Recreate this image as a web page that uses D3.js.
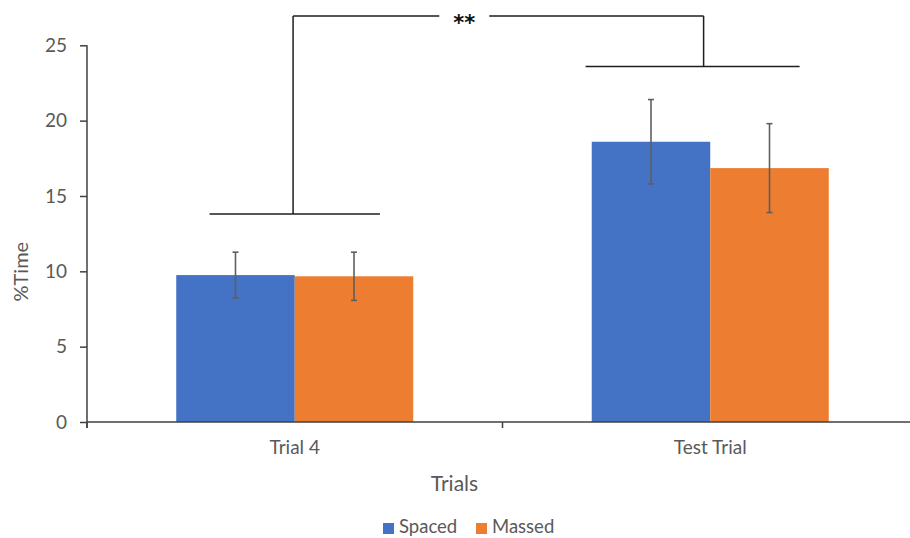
<!DOCTYPE html>
<html>
<head>
<meta charset="utf-8">
<script src="https://cdn.jsdelivr.net/npm/d3@7"></script>
<style>
  html, body { margin: 0; padding: 0; background: #ffffff; }
  svg { display: block; font-family: Lato, "Open Sans", sans-serif; }
</style>
</head>
<body>
<svg id="chart" width="910" height="538"></svg>
<script>
// Percent of time by trial, spaced vs massed groups (mean ± error)
const categories = ["Trial 4", "Test Trial"];
const seriesNames = ["Spaced", "Massed"];
const spacedValues = [9.75, 18.6];
const massedValues = [9.67, 16.85];
const spacedErrors = [1.52, 2.8];
const massedErrors = [1.6, 2.95];
const yTicks = [0, 5, 10, 15, 20, 25];
const seriesColors = ["#4472C4", "#ED7D31"];

// Significance brackets: level in y units, span as fractions of category band
const bracketLevels = [13.8, 23.6];
const bracketSpans = [[-0.205, 0.205], [-0.30, 0.215]];
const bracketStems = [-0.004, -0.016];
const topLevel = 26.95;
const sigLabel = "**";

const svg = d3.select("#chart");
const plotLeft = 87, plotRight = 918, plotTop = 45.3, plotBottom = 422;

const y = d3.scaleLinear().domain([0, 25]).range([plotBottom, plotTop]);
const x0 = d3.scaleBand().domain(categories).range([plotLeft, plotRight]).paddingInner(0).paddingOuter(0);
const x1 = d3.scaleBand().domain(seriesNames).range([0, x0.bandwidth()]).paddingInner(0).paddingOuter(0.753);
const color = d3.scaleOrdinal().domain(seriesNames).range(seriesColors);

const rows = categories.map((c, i) => ({
  category: c,
  values: [
    { name: "Spaced", value: spacedValues[i], err: spacedErrors[i] },
    { name: "Massed", value: massedValues[i], err: massedErrors[i] }
  ]
}));

// Bars
const groups = svg.append("g").selectAll("g")
  .data(rows).join("g")
  .attr("transform", d => `translate(${x0(d.category)},0)`);

groups.selectAll("rect")
  .data(d => d.values).join("rect")
  .attr("x", d => x1(d.name))
  .attr("width", x1.bandwidth())
  .attr("y", d => y(d.value))
  .attr("height", d => y(0) - y(d.value))
  .attr("fill", d => color(d.name));

// Error bars
const capHalf = 3;
groups.selectAll("g.err")
  .data(d => d.values).join("g")
  .attr("class", "err")
  .each(function(d) {
    const g = d3.select(this);
    const cx = x1(d.name) + x1.bandwidth() / 2;
    const hi = y(d.value + d.err), lo = y(d.value - d.err);
    g.append("line").attr("x1", cx).attr("x2", cx).attr("y1", hi).attr("y2", lo);
    g.append("line").attr("x1", cx - capHalf).attr("x2", cx + capHalf).attr("y1", hi).attr("y2", hi);
    g.append("line").attr("x1", cx - capHalf).attr("x2", cx + capHalf).attr("y1", lo).attr("y2", lo);
  })
  .selectAll("line")
  .attr("stroke", "#5f5f5f").attr("stroke-width", 1.6);

// Y axis
const yAxis = svg.append("g")
  .attr("transform", `translate(${plotLeft},0)`)
  .call(d3.axisLeft(y).tickValues(yTicks).tickSize(7).tickPadding(13));
yAxis.select(".domain").remove();
yAxis.selectAll(".tick line").attr("stroke", "#404040").attr("stroke-width", 1.5);
yAxis.selectAll(".tick text")
  .attr("fill", "#595959").style("font-size", "19px").style("font-family", "Lato, sans-serif");
svg.append("line")
  .attr("x1", plotLeft).attr("x2", plotLeft)
  .attr("y1", y(25)).attr("y2", plotBottom + 6)
  .attr("stroke", "#404040").attr("stroke-width", 1.5);

// X axis
const xAxis = svg.append("g")
  .attr("transform", `translate(0,${plotBottom})`)
  .call(d3.axisBottom(x0).tickSize(0).tickPadding(18.5));
xAxis.select(".domain").remove();
xAxis.selectAll(".tick text")
  .attr("fill", "#595959").style("font-size", "19px").style("font-family", "Lato, sans-serif");
svg.append("line")
  .attr("x1", plotLeft).attr("x2", plotRight)
  .attr("y1", plotBottom).attr("y2", plotBottom)
  .attr("stroke", "#404040").attr("stroke-width", 1.5);
// Category boundary ticks
const boundaries = categories.map(c => x0(c)).concat([plotRight]);
svg.append("g").selectAll("line")
  .data(boundaries).join("line")
  .attr("x1", d => d).attr("x2", d => d)
  .attr("y1", plotBottom).attr("y2", plotBottom + 6)
  .attr("stroke", "#404040").attr("stroke-width", 1.5);

// Axis titles
svg.append("text")
  .attr("transform", `translate(28,${(y(0) + y(25)) / 2 + 38}) rotate(-90)`)
  .attr("text-anchor", "middle")
  .attr("fill", "#595959").style("font-size", "20px")
  .text("%Time");

svg.append("text")
  .attr("x", 454.5).attr("y", 491)
  .attr("text-anchor", "middle")
  .attr("fill", "#595959").style("font-size", "21px")
  .text("Trials");

// Legend
const legend = svg.append("g");
const legendX = [383, 476];
seriesNames.forEach((s, i) => {
  legend.append("rect")
    .attr("x", legendX[i]).attr("y", 523)
    .attr("width", 11).attr("height", 11)
    .attr("fill", color(s));
  legend.append("text")
    .attr("x", legendX[i] + 16).attr("y", 533)
    .attr("fill", "#595959").style("font-size", "18.5px")
    .text(s);
});

// Significance brackets
const br = svg.append("g").attr("stroke", "#1e1e1e").attr("stroke-width", 1.5).attr("fill", "none");
const bw = x0.bandwidth();
const centers = categories.map(c => x0(c) + bw / 2);
const stemX = centers.map((c, i) => c + bracketStems[i] * bw);
categories.forEach((c, i) => {
  br.append("line")
    .attr("x1", centers[i] + bracketSpans[i][0] * bw)
    .attr("x2", centers[i] + bracketSpans[i][1] * bw)
    .attr("y1", y(bracketLevels[i])).attr("y2", y(bracketLevels[i]));
  br.append("line")
    .attr("x1", stemX[i]).attr("x2", stemX[i])
    .attr("y1", y(bracketLevels[i])).attr("y2", y(topLevel));
});
const starX = stemX[0] + 0.417 * (stemX[1] - stemX[0]);
const gapHalf = 25;
br.append("line")
  .attr("x1", stemX[0]).attr("x2", starX - gapHalf)
  .attr("y1", y(topLevel)).attr("y2", y(topLevel));
br.append("line")
  .attr("x1", starX + gapHalf).attr("x2", stemX[1])
  .attr("y1", y(topLevel)).attr("y2", y(topLevel));
svg.append("text")
  .attr("x", starX).attr("y", y(topLevel) + 14)
  .attr("text-anchor", "middle")
  .attr("fill", "#111").style("font-size", "21px").style("font-weight", "bold")
  .style("font-family", "'DejaVu Sans', sans-serif")
  .text(sigLabel);
</script>
</body>
</html>
